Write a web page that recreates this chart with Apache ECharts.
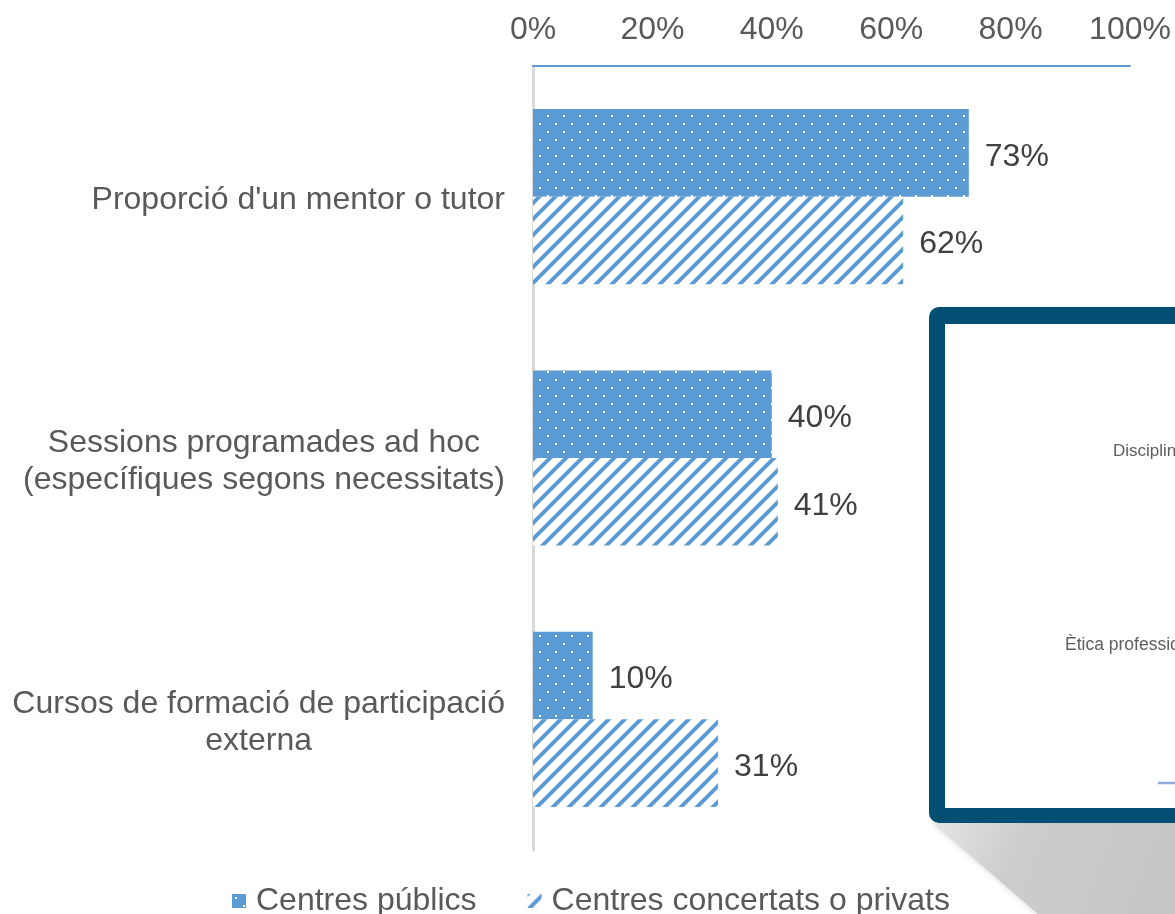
<!DOCTYPE html>
<html>
<head>
<meta charset="utf-8">
<script src="https://cdn.jsdelivr.net/npm/echarts@6/dist/echarts.min.js"></script>
<style>
  html, body { margin: 0; padding: 0; background: #ffffff; }
  #chart { width: 1175px; height: 914px; }
</style>
</head>
<body>
<div id="chart"></div>
<script>
// Categories (top to bottom) and the two series, in percent
const categories = [
  "Proporció d'un mentor o tutor",
  "Sessions programades ad hoc\n(específiques segons necessitats)",
  "Cursos de formació de participació\nexterna"
];
const seriesNames = ['Centres públics', 'Centres concertats o privats'];
const publicValues = [73, 40, 10];
const privateValues = [62, 41, 31];
const axisMin = 0;
const axisMax = 100;
const axisStep = 20;

// Text shown on the framed screen at the lower right
const screenLabels = ['Disciplina', 'Ètica professional'];

const BLUE = '#5B9BD5';
const TEXT = '#595959';
const FONT = '"Liberation Sans", Arial, sans-serif';

// Fill patterns: white dots on blue, and blue upward diagonal stripes on white
function dotTile() {
  const c = document.createElement('canvas');
  c.width = 16; c.height = 16;
  const g = c.getContext('2d');
  g.fillStyle = BLUE;
  g.fillRect(0, 0, 16, 16);
  g.fillStyle = '#ffffff';
  g.fillRect(3, 3, 2, 2);
  g.fillRect(11, 11, 2, 2);
  return c;
}
function stripeTile() {
  const c = document.createElement('canvas');
  c.width = 16; c.height = 16;
  const g = c.getContext('2d');
  g.fillStyle = '#ffffff';
  g.fillRect(0, 0, 16, 16);
  g.strokeStyle = BLUE;
  g.lineWidth = 4;
  for (const k of [-1, 0, 1]) {
    g.beginPath();
    g.moveTo(-4, 20 + 16 * k);
    g.lineTo(20, -4 + 16 * k);
    g.stroke();
  }
  return c;
}
const dotFill = { image: dotTile(), repeat: 'repeat' };
const stripeFill = { image: stripeTile(), repeat: 'repeat' };

const valueLabel = {
  show: true,
  position: 'right',
  distance: 16,
  offset: [0, 4],
  fontSize: 32,
  fontFamily: FONT,
  color: '#404040',
  formatter: p => p.value + '%'
};

const chart = echarts.init(document.getElementById('chart'), null, { renderer: 'canvas' });

chart.setOption({
  animation: false,
  backgroundColor: '#ffffff',
  grid: { left: 533, right: 45, top: 66, bottom: 64, containLabel: false },
  xAxis: {
    type: 'value',
    position: 'top',
    min: axisMin,
    max: axisMax,
    interval: axisStep,
    axisLine: { show: true, lineStyle: { color: BLUE, width: 2 } },
    axisTick: { show: false },
    splitLine: { show: false },
    axisLabel: {
      margin: 20,
      fontSize: 32,
      fontFamily: FONT,
      color: TEXT,
      formatter: v => v + '%'
    }
  },
  yAxis: {
    type: 'category',
    inverse: true,
    data: categories,
    axisLine: { show: true, lineStyle: { color: '#D9D9D9', width: 3 } },
    axisTick: { show: false },
    axisLabel: {
      margin: 28,
      align: 'right',
      padding: [7, 0, 0, 0],
      formatter: v => v.split('\n').map(s => '{c|' + s + '}').join('\n'),
      rich: {
        c: { align: 'center', fontSize: 32, lineHeight: 37, fontFamily: FONT, color: TEXT }
      }
    }
  },
  legend: {
    top: 880,
    left: 227,
    icon: 'rect',
    itemWidth: 14,
    itemHeight: 14,
    itemGap: 51,
    textStyle: { fontSize: 32, fontFamily: FONT, color: TEXT, padding: [0, 0, 0, 5] },
    data: seriesNames
  },
  series: [
    {
      name: seriesNames[0],
      type: 'bar',
      data: publicValues,
      barGap: '0%',
      barCategoryGap: '33%',
      itemStyle: { color: dotFill },
      label: valueLabel
    },
    {
      name: seriesNames[1],
      type: 'bar',
      data: privateValues,
      barGap: '0%',
      barCategoryGap: '33%',
      itemStyle: { color: stripeFill },
      label: valueLabel
    }
  ],
  graphic: [
    {
      type: 'polygon',
      z: 100,
      shape: { points: [[933, 823], [1175, 823], [1175, 914], [1038, 914]] },
      style: {
        fill: {
          type: 'linear', x: 0, y: 0, x2: 1, y2: 1,
          colorStops: [{ offset: 0, color: '#E4E4E4' }, { offset: 0.35, color: '#CCCCCC' }, { offset: 1, color: '#C6C6C6' }]
        },
        shadowBlur: 6,
        shadowColor: 'rgba(200,200,200,0.8)'
      }
    },
    {
      type: 'rect',
      z: 101,
      shape: { x: 929, y: 307, width: 320, height: 516, r: 10 },
      style: { fill: '#034F73' }
    },
    {
      type: 'rect',
      z: 102,
      shape: { x: 945, y: 324, width: 300, height: 484 },
      style: { fill: '#ffffff' }
    },
    {
      type: 'text',
      z: 103,
      x: 1113, y: 451,
      style: { text: screenLabels[0], fontSize: 17, fontFamily: FONT, fill: '#5E5E5E', verticalAlign: 'middle' }
    },
    {
      type: 'text',
      z: 103,
      x: 1065, y: 645,
      style: { text: screenLabels[1], fontSize: 17.5, fontFamily: FONT, fill: '#5E5E5E', verticalAlign: 'middle' }
    },
    {
      type: 'line',
      z: 103,
      shape: { x1: 1158, y1: 783, x2: 1175, y2: 783 },
      style: { stroke: '#8FAADC', lineWidth: 2.5 }
    }
  ]
});
</script>
</body>
</html>
